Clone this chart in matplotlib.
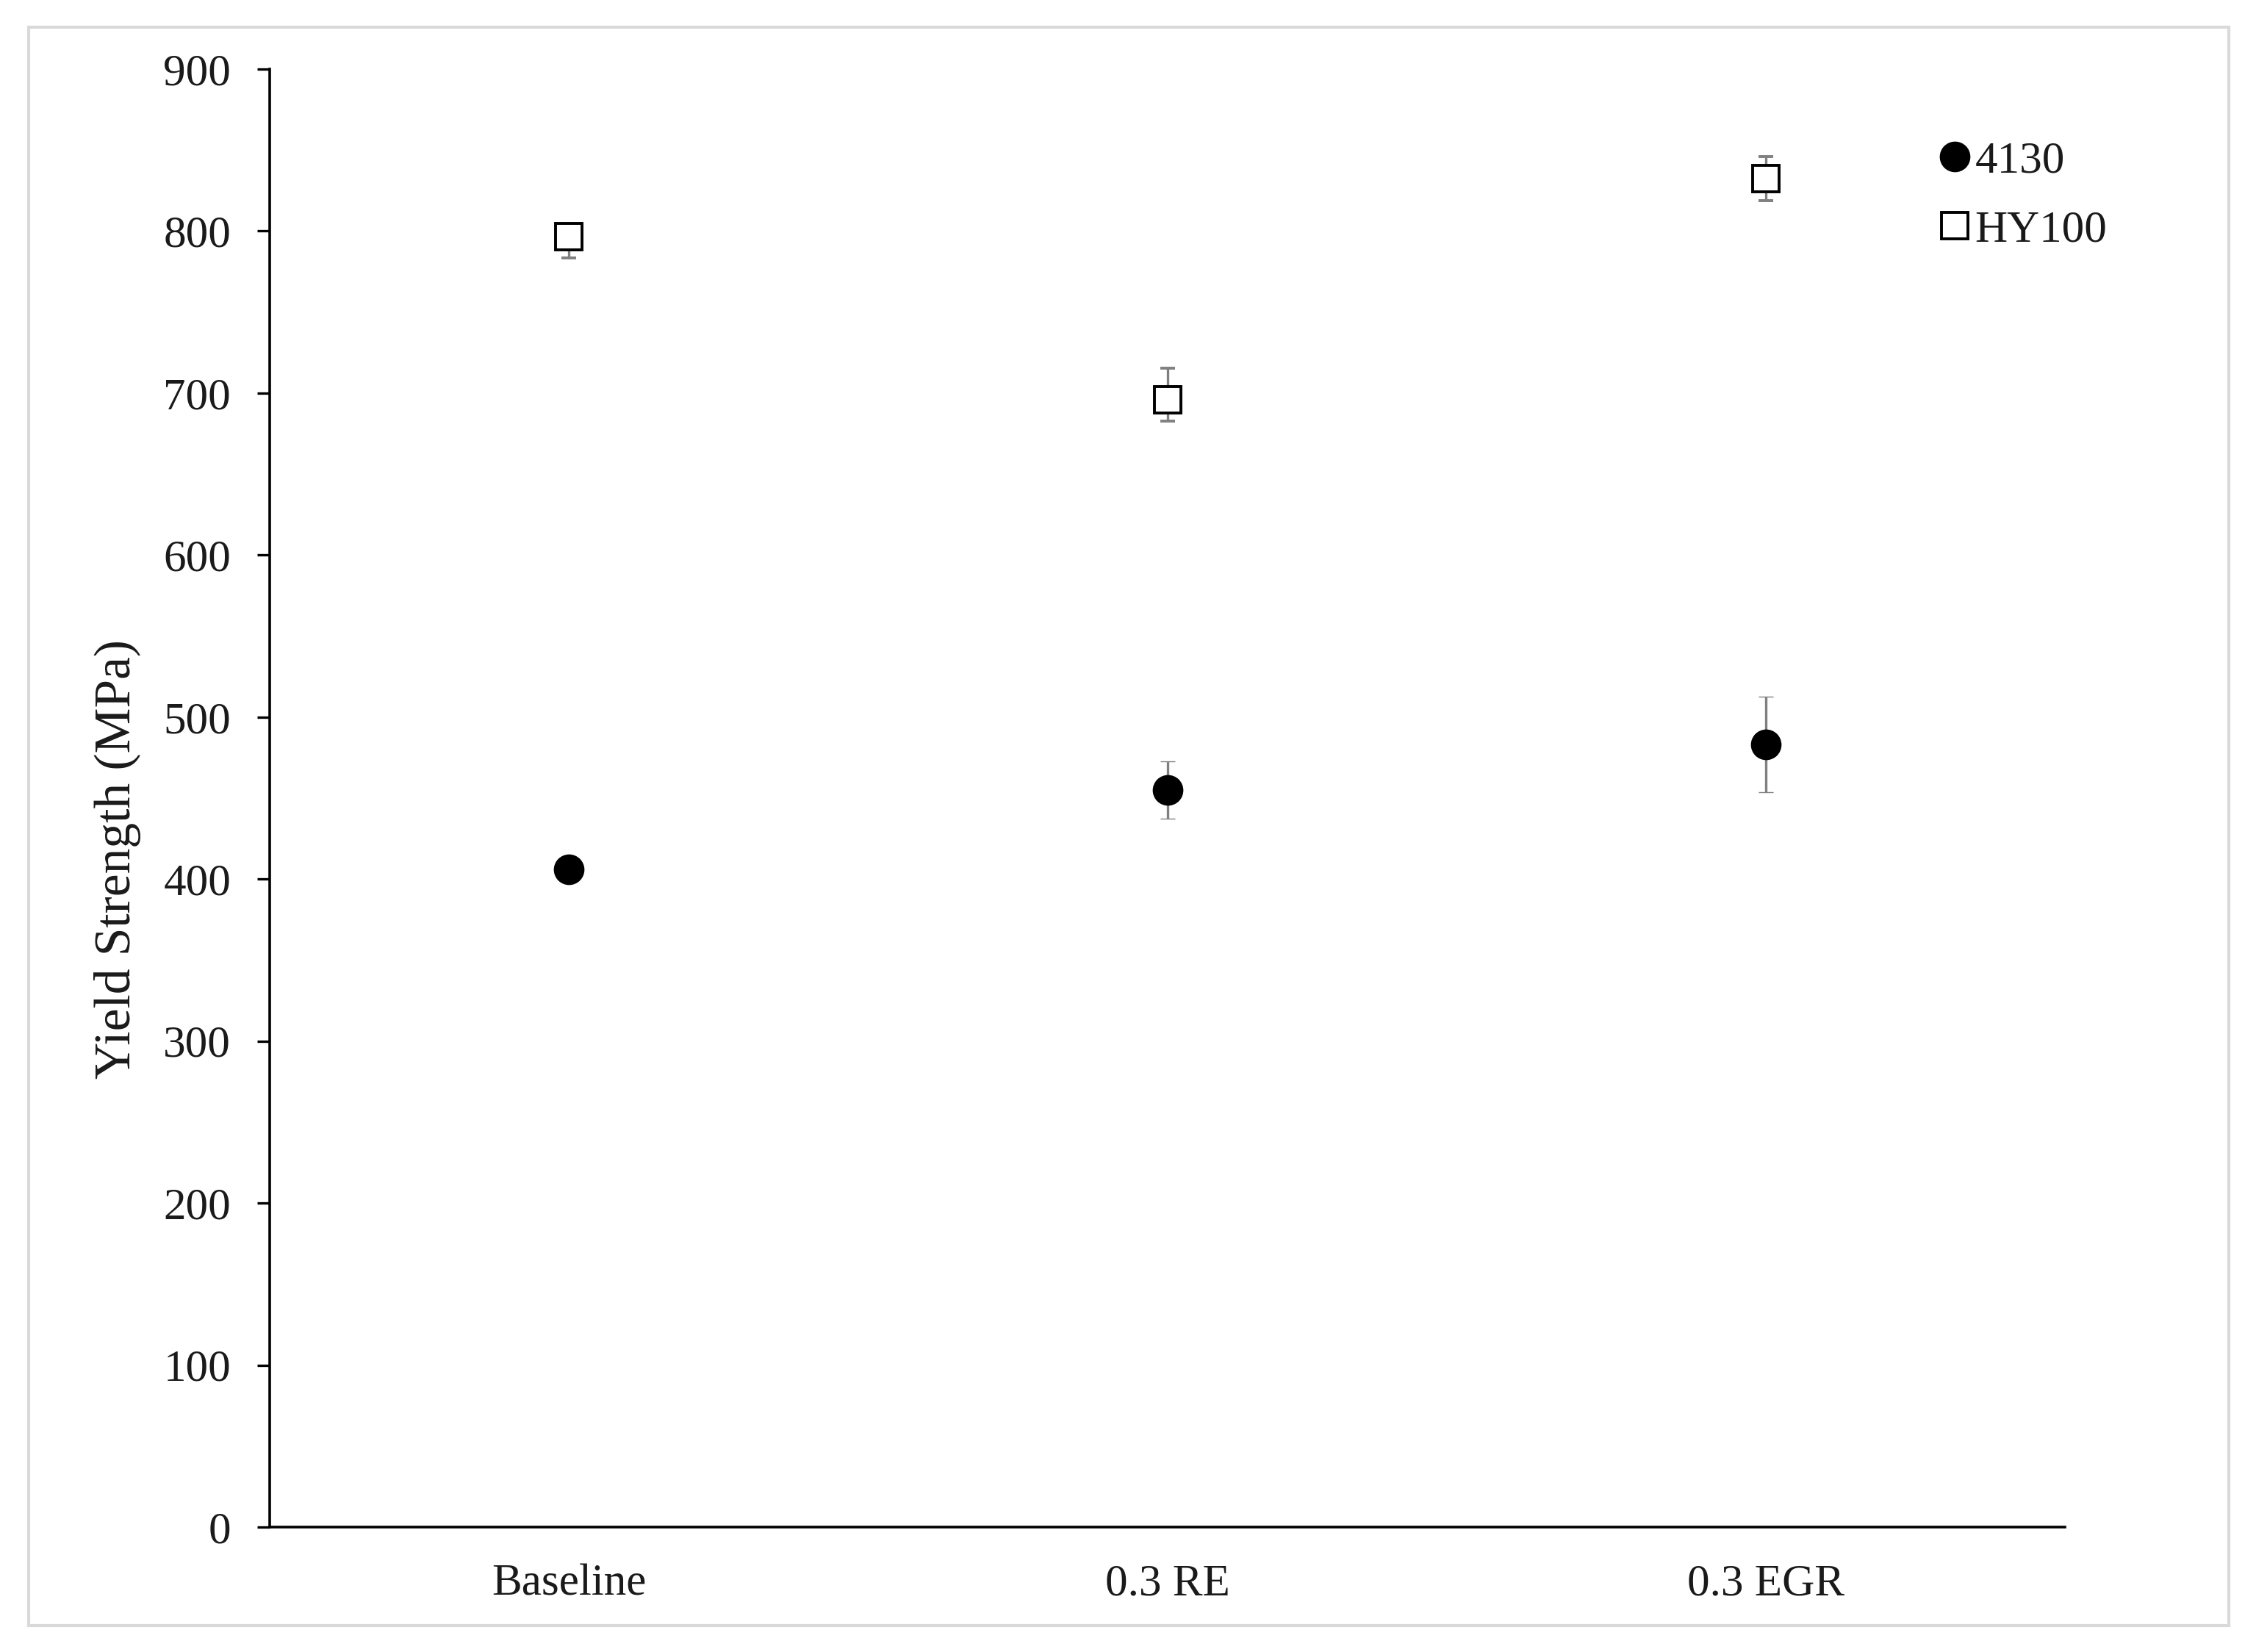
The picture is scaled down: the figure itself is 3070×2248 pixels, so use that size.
import matplotlib
matplotlib.use("Agg")
import matplotlib.pyplot as plt
from matplotlib.patches import Rectangle
from matplotlib.lines import Line2D

categories = ["Baseline", "0.3 RE", "0.3 EGR"]
series_names = ["4130", "HY100"]
vals_4130 = [406, 455, 483]
err_4130 = [5, 17.7, 29.5]
vals_hy100 = [796.5, 696, 832.5]
err_hy100_low = [13, 13.5, 13.5]
err_hy100_high = [0, 19.5, 13.5]
yticks = [0, 100, 200, 300, 400, 500, 600, 700, 800, 900]

plt.rcParams['font.family'] = ['Liberation Serif', 'DejaVu Serif']
W, H = 3070, 2248
fig = plt.figure(figsize=(W / 100, H / 100), dpi=100)
ax = fig.add_axes([367 / W, 1 - 2078 / H, (2810 - 367) / W, (2078 - 94) / H])

x = list(range(len(categories)))
ecol = '#808080'
ax.errorbar(x, vals_4130, yerr=err_4130, fmt='o', ms=29, mfc='black', mec='black', mew=1,
            ecolor=ecol, elinewidth=2.4, capsize=7.2, capthick=2.4, zorder=3)
ax.errorbar(x, vals_hy100, yerr=[err_hy100_low, err_hy100_high], fmt='s', ms=26, mfc='white',
            mec='black', mew=2.8, ecolor=ecol, elinewidth=2.4, capsize=7.2, capthick=2.4, zorder=3)

ax.set_xlim(-0.5, 2.5)
ax.set_ylim(0, 900)
ax.set_yticks(yticks)
ax.set_xticks(x)
ax.set_xticklabels(categories)
for s in ['top', 'right']:
    ax.spines[s].set_visible(False)
for s in ['left', 'bottom']:
    ax.spines[s].set_linewidth(2.6)
    ax.spines[s].set_color('black')
ax.tick_params(axis='y', direction='out', length=12, width=2.4, pad=26, labelsize=44, labelcolor='#1a1a1a')
ax.tick_params(axis='x', length=0, pad=36, labelsize=44, labelcolor='#1a1a1a')

fig.text(160 / W, 1 - 1169 / H, "Yield Strength (MPa)", rotation=90, ha='center', va='center',
         fontsize=50, color='#1a1a1a')

handles = [Line2D([], [], ls='none', marker='o', ms=29, mfc='black', mec='black', mew=1),
           Line2D([], [], ls='none', marker='s', ms=26, mfc='white', mec='black', mew=2.8)]
fig.legend(handles, series_names, loc='upper left', bbox_to_anchor=(2640 / W, 1 - 192 / H),
           frameon=False, fontsize=44, borderpad=0, borderaxespad=0, handlelength=0.65,
           handletextpad=0.13, labelspacing=0.62, numpoints=1, labelcolor='#1a1a1a')

fig.patches.append(Rectangle((39 / W, 1 - 2212 / H), (3033 - 39) / W, (2212 - 37) / H,
                             transform=fig.transFigure, fill=False, edgecolor='#d9d9d9', linewidth=3))

fig.savefig('out.png', dpi=100, facecolor='white')
